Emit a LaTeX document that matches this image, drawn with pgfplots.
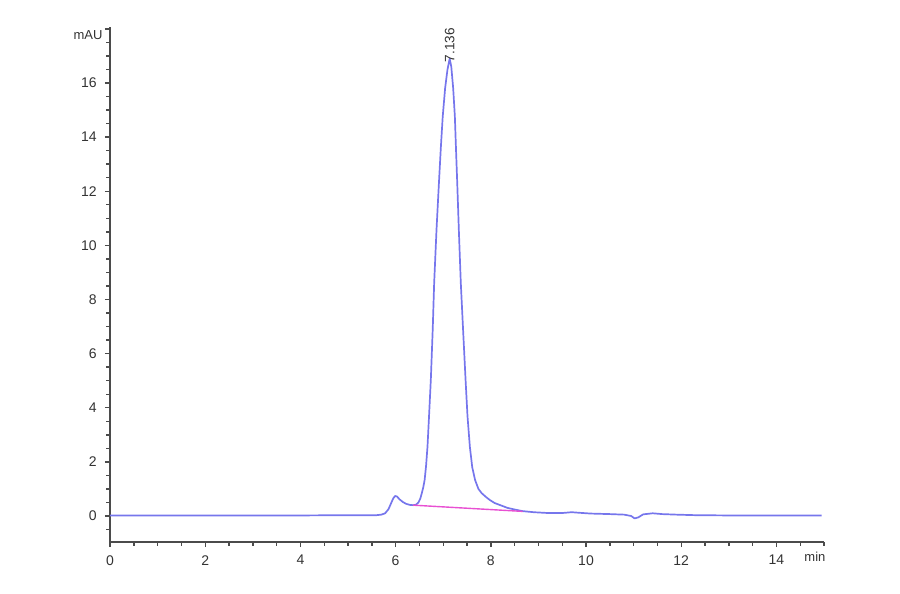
\documentclass[border=0pt]{standalone}
\usepackage{fontspec}
\setmainfont{Liberation Sans}
\usepackage{pgfplots}
\pgfplotsset{compat=1.18}
\definecolor{trace}{RGB}{118,118,236}
\definecolor{basecol}{RGB}{232,80,210}
\definecolor{axisgray}{RGB}{75,75,75}
\begin{document}
\begin{tikzpicture}
\useasboundingbox (0,0) rectangle (450pt,297pt);
\begin{axis}[
  at={(55pt,26pt)}, anchor=south west,
  scale only axis, width=357pt, height=257.5pt,
  xmin=0, xmax=15, ymin=-0.961, ymax=18.07,
  axis x line=bottom, axis y line=left,
  axis line style={-, axisgray, line width=0.8pt},
  xtick={0,2,...,14}, ytick={0,2,...,18},
  yticklabels={0,2,4,6,8,10,12,14,16,{}},
  minor xtick={0.5,1,...,14.5,15},
  minor ytick={-0.5,0.5,1,...,17.5},
  tick align=outside,
  major tick length=2.6pt, minor tick length=2pt,
  every tick/.style={axisgray, line width=0.7pt},
  tick label style={font=\fontsize{7}{8}\selectfont, text=black!80},
  /pgf/number format/assume math mode=true,
  xticklabel style={yshift=-0.5pt},
  yticklabel style={xshift=-0.5pt},
  clip=false,
]
\addplot[trace, line width=0.85pt, line join=round] coordinates {
  (0,0.02) (1,0.02) (2,0.02) (3,0.02) (4,0.02) (5,0.03) (5.6,0.03)
  (5.7,0.05) (5.78,0.1) (5.85,0.25) (5.9,0.45) (5.95,0.65) (5.99,0.74)
  (6.03,0.72) (6.08,0.62) (6.15,0.52) (6.22,0.45) (6.3,0.41) (6.37,0.40)
  (6.43,0.42) (6.48,0.5) (6.52,0.65) (6.55,0.84) (6.58,1.05) (6.61,1.33)
  (6.64,1.85) (6.67,2.56) (6.70,3.6) (6.74,5.03) (6.78,6.9) (6.81,8.6)
  (6.86,10.6) (6.91,12.3) (6.95,13.6) (6.99,14.76) (7.04,15.8) (7.09,16.5)
  (7.136,16.9) (7.17,16.6) (7.21,15.8) (7.245,14.76) (7.27,13.5)
  (7.295,12.3) (7.33,10.5) (7.37,8.6) (7.42,6.8) (7.47,5.03) (7.51,3.7)
  (7.56,2.56) (7.61,1.8) (7.67,1.33) (7.74,1.0) (7.81,0.84) (7.9,0.7)
  (7.98,0.59) (8.08,0.48) (8.2,0.4) (8.35,0.3) (8.5,0.24) (8.67,0.18)
  (8.9,0.14) (9.2,0.11) (9.5,0.11) (9.7,0.14) (9.85,0.12) (10.1,0.09)
  (10.5,0.07) (10.8,0.05) (10.95,0.0) (11.02,-0.09) (11.1,-0.05)
  (11.2,0.06) (11.4,0.1) (11.6,0.07) (11.9,0.05) (12.3,0.03) (13,0.02)
  (14,0.02) (14.95,0.02)
};
\addplot[basecol, line width=0.7pt] coordinates {(6.37,0.40) (8.67,0.17)};
\node[rotate=90, anchor=west, inner sep=0pt,
      font=\fontsize{6.8}{8}\selectfont, text=black!80]
  at (axis cs:7.136,16.75) {7.136};
\node[font=\fontsize{6.5}{8}\selectfont, text=black!80]
  at (axis cs:-0.46,17.78) {mAU};
\node[font=\fontsize{6.5}{8}\selectfont, text=black!80]
  at (axis cs:14.81,-1.52) {min};
\end{axis}
\end{tikzpicture}
\end{document}
